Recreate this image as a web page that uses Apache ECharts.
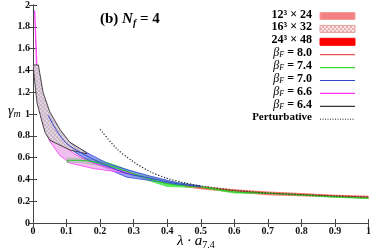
<!DOCTYPE html>
<html><head><meta charset="utf-8">
<script src="https://cdn.jsdelivr.net/npm/echarts@6/dist/echarts.min.js"></script>
<style>html,body{margin:0;padding:0;background:#fff}#c{width:374px;height:249px}</style>
</head><body><div id="c"></div>
<script>
// ---- data ----
const xTicks = [0,0.1,0.2,0.3,0.4,0.5,0.6,0.7,0.8,0.9,1];
const yTicks = [0,0.2,0.4,0.6,0.8,1,1.2,1.4,1.6,1.8,2];

const pertX = [0.2,0.25,0.3,0.35,0.4,0.45,0.5,0.6,0.7,0.8,0.9,1.0];
const pertY = [0.86,0.68,0.56,0.47,0.41,0.37,0.34,0.30,0.275,0.26,0.248,0.238];

// beta 6.4 band (grey, hatched)
const b64UpX = [0,0.016,0.03,0.05,0.08,0.11,0.16];
const b64UpY = [1.45,1.45,1.2,1.02,0.86,0.74,0.645];
const b64LoX = [0,0.005,0.012,0.025,0.036,0.05,0.11,0.16];
const b64LoY = [1.45,1.3,1.1,0.95,0.83,0.76,0.67,0.635];
// beta 6.6 band (magenta)
const b66UpX = [0.005,0.012,0.02,0.04,0.06,0.08,0.12,0.17,0.22,0.3];
const b66UpY = [1.95,1.45,1.25,1.0,0.85,0.74,0.64,0.56,0.51,0.45];
const b66LoX = [0.005,0.01,0.02,0.03,0.05,0.08,0.11,0.18,0.25,0.3];
const b66LoY = [1.95,1.45,1.05,0.9,0.75,0.62,0.55,0.50,0.47,0.44];
// beta 7.0 band (blue)
const b70X = [0.045,0.07,0.1,0.14,0.17,0.22,0.28,0.35,0.43,0.5];
const b70UpY = [1.0,0.88,0.76,0.68,0.63,0.55,0.49,0.43,0.37,0.34];
const b70LoY = [0.98,0.82,0.70,0.62,0.57,0.50,0.42,0.39,0.35,0.33];
// beta 7.4 band (green)
const b74X = [0.1,0.14,0.2,0.25,0.3,0.4,0.5,0.6,0.7,0.8,0.9,1.0];
const b74UpY = [0.60,0.60,0.58,0.53,0.47,0.39,0.34,0.30,0.28,0.265,0.25,0.235];
const b74LoY = [0.55,0.55,0.52,0.48,0.43,0.33,0.32,0.27,0.265,0.25,0.232,0.22];
// beta 8.0 band (red)
const b80X = [0.45,0.5,0.6,0.7,0.8,0.9,1.0];
const b80UpY = [0.36,0.34,0.31,0.29,0.275,0.26,0.25];
const b80LoY = [0.33,0.31,0.28,0.255,0.245,0.235,0.225];

const legendLabels = ['12³ × 24','16³ × 32','24³ × 48','8.0','7.4','7.0','6.6','6.4','Perturbative'];

// ---- helpers ----
function makePattern(c1, c2){
  const cv = document.createElement('canvas'); cv.width=4; cv.height=4;
  const g = cv.getContext('2d');
  g.fillStyle=c1; g.fillRect(0,0,4,4);
  g.fillStyle=c2; g.fillRect(0,0,2,2); g.fillRect(2,2,2,2);
  return {image: cv, repeat:'repeat'};
}
const zip = (xs, ys) => xs.map((x,i)=>[x, ys[i]]);

function band(name, upX, upY, loX, loY, fill, stroke, lw){
  const up = zip(upX, upY), lo = zip(loX, loY);
  return {
    type:'custom', name, coordinateSystem:'cartesian2d', clip:true,
    data:[[up[0][0], up[0][1]]], silent:true,
    renderItem:(params, api)=>{
      const pts = up.map(p=>api.coord(p)).concat(lo.slice().reverse().map(p=>api.coord(p)));
      return {type:'polygon', shape:{points:pts}, style:{fill, stroke: stroke||null, lineWidth: lw||0}};
    }
  };
}
function mid(xs, a, b){ return xs.map((x,i)=>[x,(a[i]+b[i])/2]); }

const hatchGrey = makePattern('#e2d2e0','#c9b9c9');
const hatchLegend = makePattern('#fbe6e6','#eab0b0');

const chart = echarts.init(document.getElementById('c'), null, {renderer:'canvas'});
const serif = 'Liberation Serif, Times New Roman, serif';

const lineS = (data, color, w, type)=>({type:'line', data, showSymbol:false, symbol:'none', smooth:0.3,
  lineStyle:{color, width:w||1, type:type||'solid'}, silent:true, z:5});

const legendY0 = 16, dy = 12.9;
const graphics = [];
const legTexts = [
  {text:'{n|12³ × 24}'},{text:'{n|16³ × 32}'},{text:'{n|24³ × 48}'},
  {text:'{b|β}{s|F}{n| = 8.0}'},{text:'{b|β}{s|F}{n| = 7.4}'},{text:'{b|β}{s|F}{n| = 7.0}'},
  {text:'{b|β}{s|F}{n| = 6.6}'},{text:'{b|β}{s|F}{n| = 6.4}'},{text:'{p|Perturbative}'}
];
const rich = {
  n:{fontFamily:serif, fontWeight:'bold', fontSize:12, color:'#111'},
  b:{fontFamily:serif, fontStyle:'italic', fontSize:12, color:'#111'},
  s:{fontFamily:serif, fontStyle:'italic', fontSize:8, color:'#111', verticalAlign:'bottom', padding:[4,0,0,0]},
  p:{fontFamily:serif, fontWeight:'bold', fontSize:11, color:'#111'}
};
legTexts.forEach((t,i)=>{
  graphics.push({type:'text', right:374-312, top: legendY0 + i*dy - 7.5, style:{text:t.text, rich, align:'right'}});
});
const sx1 = 320, sx2 = 355;
const legendSamples = [
  {type:'rect', fill:'#f48080', stroke:'#f0a0a0'},
  {type:'rect', fill:hatchLegend, stroke:'#e6a0a0'},
  {type:'rect', fill:'#ff0000', stroke:'#ff0000'},
  {type:'line', color:'#ee5555'},
  {type:'line', color:'#33dd33'},
  {type:'line', color:'#3344cc'},
  {type:'line', color:'#ff33ff'},
  {type:'line', color:'#333333'},
  {type:'dot', color:'#222'}
];
legendSamples.forEach((s,i)=>{
  const y = legendY0 + i*dy;
  if (s.type==='rect') graphics.push({type:'rect', shape:{x:sx1, y:y-3.5, width:sx2-sx1, height:7}, style:{fill:s.fill, stroke:s.stroke, lineWidth:1}});
  else graphics.push({type:'line', shape:{x1:sx1, y1:y, x2:sx2, y2:y}, style:{stroke:s.color, lineWidth:s.type==='dot'?1:1.2, lineDash: s.type==='dot'?[1,1.5]:null}});
});
graphics.push({type:'text', left:100, top:12, style:{text:'{n|(b) }{i|N}{s|f}{n| = 4}', rich:{
  n:{fontFamily:serif, fontWeight:'bold', fontSize:15, color:'#111'},
  i:{fontFamily:serif, fontStyle:'italic', fontWeight:'bold', fontSize:15, color:'#111'},
  s:{fontFamily:serif, fontStyle:'italic', fontWeight:'bold', fontSize:10, color:'#111', padding:[7,0,0,0]}
}}});
graphics.push({type:'text', left:8, top:104, style:{text:'{i|γ}{s|m}', rich:{
  i:{fontFamily:serif, fontStyle:'italic', fontSize:14, color:'#111'},
  s:{fontFamily:serif, fontStyle:'italic', fontSize:10, color:'#111', padding:[6,0,0,0]}
}}});
graphics.push({type:'text', left:177, top:234, style:{text:'{i|λ · a}{s|7.4}', rich:{
  i:{fontFamily:serif, fontStyle:'italic', fontSize:15, color:'#111'},
  s:{fontFamily:serif, fontSize:10, color:'#111', padding:[7,0,0,0]}
}}});

const axLabel = {fontFamily:serif, fontWeight:'bold', fontSize:10, color:'#111'};
chart.setOption({
  animation:false,
  grid:{left:33, right:5, top:5, bottom:26, containLabel:false},
  xAxis:[
    {type:'value', min:0, max:1, interval:0.1, position:'bottom',
     axisLine:{lineStyle:{color:'#444', width:1}}, axisTick:{inside:true, length:4, lineStyle:{color:'#444'}},
     axisLabel:{...axLabel, margin:3, formatter:v=>String(+v.toFixed(1))}, splitLine:{show:false}},
    {type:'value', min:0, max:1, interval:0.1, position:'top',
     axisLine:{show:true, lineStyle:{color:'#444'}}, axisTick:{inside:true, length:4, lineStyle:{color:'#444'}},
     axisLabel:{show:false}, splitLine:{show:false}}
  ],
  yAxis:[
    {type:'value', min:0, max:2, interval:0.2, position:'left',
     axisLine:{show:true, lineStyle:{color:'#444', width:1}}, axisTick:{inside:true, length:4, lineStyle:{color:'#444'}},
     axisLabel:{...axLabel, margin:3, formatter:v=>String(+v.toFixed(1))}, splitLine:{show:false}},
    {type:'value', min:0, max:2, interval:0.2, position:'right',
     axisLine:{show:true, lineStyle:{color:'#444'}}, axisTick:{inside:true, length:4, lineStyle:{color:'#444'}},
     axisLabel:{show:false}, splitLine:{show:false}}
  ],
  series:[
    band('b80', b80X, b80UpY, b80X, b80LoY, 'rgba(255,60,60,0.75)'),
    band('b74', b74X, b74UpY, b74X, b74LoY, 'rgba(60,230,60,0.8)'),
    band('b70', b70X, b70UpY, b70X, b70LoY, 'rgba(120,130,240,0.75)', '#3344dd', 0.8),
    band('b66', b66UpX, b66UpY, b66LoX, b66LoY, 'rgba(235,170,235,0.75)', '#ff33ff', 0.8),
    band('b64', b64UpX, b64UpY, b64LoX, b64LoY, hatchGrey, '#222', 0.8),
    lineS(mid(b80X,b80UpY,b80LoY), '#ee4444', 1),
    lineS(mid(b74X,b74UpY,b74LoY), '#22cc22', 1),
    lineS(mid(b70X,b70UpY,b70LoY), '#3344cc', 1),
    lineS(zip(pertX, pertY), '#222', 1.2, [1.2,1.8])
  ],
  graphic: graphics
});
</script></body></html>
